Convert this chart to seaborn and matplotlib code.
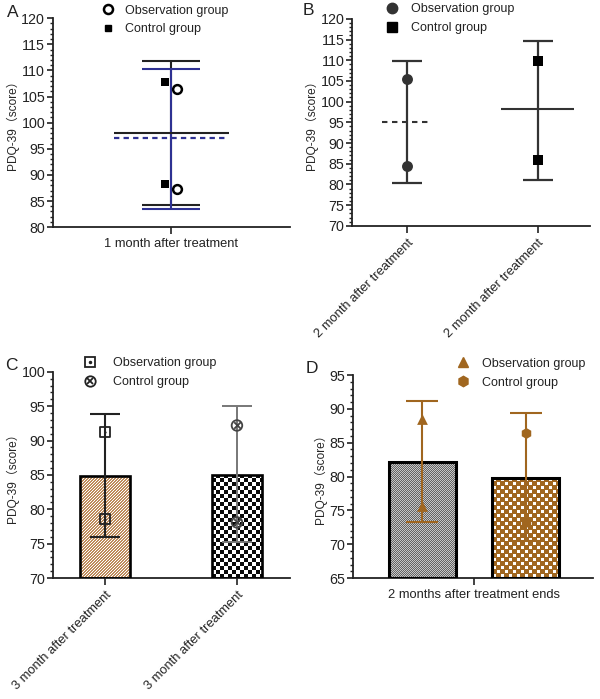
import numpy as np
import pandas as pd
import matplotlib
matplotlib.use("Agg")
import matplotlib.pyplot as plt
import seaborn as sns
from matplotlib.lines import Line2D
from matplotlib.patches import Rectangle
from matplotlib.ticker import MultipleLocator

groups = ["Observation group", "Control group"]

# panel A
a_label = "1 month after treatment"
a_obs_points = [106.4, 87.4]
a_ctrl_points = [107.8, 88.3]
a_obs_mean, a_obs_low, a_obs_high = 97.0, 83.4, 110.3
a_ctrl_mean, a_ctrl_low, a_ctrl_high = 98.0, 84.2, 111.8

# panel B
b_labels = ["2 month after treatment", "2 month after treatment"]
b_obs_points = [105.5, 84.5]
b_ctrl_points = [109.9, 86.0]
b_means = [95.1, 98.1]
b_lows = [80.3, 81.1]
b_highs = [109.9, 114.7]

# panel C
c_labels = ["3 month after treatment", "3 month after treatment"]
c_means = [84.9, 85.0]
c_lows = [76.0, 75.2]
c_highs = [93.9, 95.1]
c_obs_points = [91.3, 78.6]
c_ctrl_points = [92.2, 78.1]

# panel D
d_label = "2 months after treatment ends"
d_means = [82.2, 79.8]
d_lows = [73.3, 70.5]
d_highs = [91.2, 89.4]
d_obs_points = [88.5, 75.7]
d_ctrl_points = [86.5, 73.3]

BLUE = "#2e3192"
DARK = "#222222"
GREY = "#333333"
BROWN = "#a0661f"
YLABEL = "PDQ-39（score）"

sns.set_theme(style="ticks")
plt.rcParams["font.family"] = ["Liberation Sans", "Noto Sans CJK SC", "DejaVu Sans"]
plt.rcParams["axes.edgecolor"] = DARK
plt.rcParams["xtick.color"] = DARK
plt.rcParams["ytick.color"] = DARK
plt.rcParams["text.color"] = DARK


def style_axis(ax, ymin, ymax):
    ax.set_ylim(ymin, ymax)
    ax.yaxis.set_major_locator(MultipleLocator(5))
    ax.yaxis.set_minor_locator(MultipleLocator(1))
    ax.tick_params(axis="y", which="major", length=4.5, width=1.2, labelsize=10.3, pad=1)
    ax.tick_params(axis="y", which="minor", length=2.5, width=1.0)
    ax.tick_params(axis="x", length=5, width=1.2, labelsize=9.3, pad=3)
    for s in ["left", "bottom"]:
        ax.spines[s].set_linewidth(1.3)
    sns.despine(ax=ax)
    ax.set_ylabel(YLABEL, fontsize=8.6, labelpad=2)
    ax.set_xlabel("")


def draw_err(ax, x, mean, low, high, color, lw, capsize):
    ax.errorbar(x, mean, yerr=[[mean - low], [high - mean]], fmt="none",
                ecolor=color, elinewidth=lw, capsize=capsize, capthick=lw, zorder=4)


def make_tile(kind):
    n = 24
    i, j = np.mgrid[0:n, 0:n]
    light = [1, 1, 1]
    if kind == "tan":
        base = np.array([190, 140, 92]) / 255
        mask = (i + j) % 3 == 0
    elif kind == "checker":
        base = np.array([10, 10, 10]) / 255
        mask = ((i // 4) + (j // 4)) % 2 == 0
    elif kind == "grey":
        base = np.array([100, 100, 100]) / 255
        mask = (i + j) % 2 == 0
        light = [0.78, 0.78, 0.78]
    else:
        base = np.array([160, 102, 31]) / 255
        a = (i % 8 - 2) ** 2 + (j % 8 - 2) ** 2 <= 2.5
        b = (i % 8 - 6) ** 2 + (j % 8 - 6) ** 2 <= 2.5
        mask = a | b
    tile = np.ones((n, n, 3)) * base
    tile[mask] = light
    return tile


def add_texture(ax, patch, kind, edge_lw):
    ylo = max(patch.get_y(), ax.get_ylim()[0])
    x0, x1 = patch.get_x(), patch.get_x() + patch.get_width()
    y1 = patch.get_y() + patch.get_height()
    p = ax.transData.transform([[x0, ylo], [x1, y1]])
    w, h = int(abs(p[1, 0] - p[0, 0])) + 1, int(abs(p[1, 1] - p[0, 1])) + 1
    tile = make_tile(kind)
    img = np.tile(tile, (h // tile.shape[0] + 1, w // tile.shape[1] + 1, 1))[:h, :w]
    im = ax.imshow(img, extent=(x0, x1, ylo, y1), origin="upper",
                   interpolation="nearest", aspect="auto", zorder=2)
    im.set_clip_path(patch)
    ax.add_patch(Rectangle((x0, ylo), x1 - x0, y1 - ylo, fill=False,
                           edgecolor="black", lw=edge_lw, zorder=3))
    patch.set_linewidth(0)


fig = plt.figure(figsize=(6, 6.99), dpi=100)

# ---------------- A ----------------
ax = fig.add_axes([0.088, 0.675, 0.395, 0.299])
draw_err(ax, 0, a_ctrl_mean, a_ctrl_low, a_ctrl_high, DARK, 1.5, 21)
draw_err(ax, 0, a_obs_mean, a_obs_low, a_obs_high, BLUE, 1.5, 21)
ax.hlines(a_ctrl_mean, -0.24, 0.245, color=DARK, lw=1.5, zorder=4)
ax.hlines(a_obs_mean, -0.24, 0.23, color=BLUE, lw=1.6, linestyles=(0, (2.4, 1.9)), zorder=4)
sns.scatterplot(x=[-0.025] * len(a_ctrl_points), y=a_ctrl_points, marker="s", s=26,
                color="black", linewidth=0, ax=ax, zorder=5)
sns.scatterplot(x=[0.022] * len(a_obs_points), y=a_obs_points, marker="o", s=40,
                facecolor="white", edgecolor="black", linewidth=1.8, ax=ax, zorder=5)
ax.set_xlim(-0.5, 0.5)
ax.set_xticks([0])
ax.set_xticklabels([a_label])
style_axis(ax, 80, 120)
ax.legend([Line2D([], [], ls="none", marker="o", ms=6.5, mfc="white", mec="black", mew=1.8),
           Line2D([], [], ls="none", marker="s", ms=5, color="black")],
          groups, loc="upper left", bbox_to_anchor=(0.207, 1.065), frameon=False,
          fontsize=9, handlelength=1, handletextpad=0.85, labelspacing=0.55,
          borderpad=0, borderaxespad=0)

# ---------------- B ----------------
ax = fig.add_axes([0.587, 0.677, 0.396, 0.296])
draw_err(ax, 0, b_means[0], b_lows[0], b_highs[0], GREY, 1.6, 10.8)
draw_err(ax, 1, b_means[1], b_lows[1], b_highs[1], GREY, 1.6, 10.8)
ax.hlines(b_means[0], -0.19, 0.19, color=GREY, lw=1.5, linestyles=(0, (2.6, 2.2)), zorder=4)
ax.hlines(b_means[1], 1 - 0.28, 1 + 0.28, color=GREY, lw=1.5, zorder=4)
sns.scatterplot(x=[0] * len(b_obs_points), y=b_obs_points, marker="o", s=62,
                color=GREY, linewidth=0, ax=ax, zorder=5)
sns.scatterplot(x=[1] * len(b_ctrl_points), y=b_ctrl_points, marker="s", s=52,
                color="black", linewidth=0, ax=ax, zorder=5)
ax.set_xlim(-0.42, 1.40)
ax.set_xticks([0, 1])
ax.set_xticklabels(b_labels, rotation=45, ha="right", va="top", rotation_mode="anchor")
style_axis(ax, 70, 120)
ax.legend([Line2D([], [], ls="none", marker="o", ms=7.5, color=GREY),
           Line2D([], [], ls="none", marker="s", ms=7, color="black")],
          groups, loc="upper left", bbox_to_anchor=(0.143, 1.075), frameon=False,
          fontsize=9, handlelength=1, handletextpad=1.0, labelspacing=0.55,
          borderpad=0, borderaxespad=0)

# ---------------- C ----------------
ax = fig.add_axes([0.088, 0.173, 0.395, 0.295])
c_df = pd.DataFrame({"group": groups, "score": c_means})
sns.barplot(data=c_df, x="group", y="score", hue="group", palette=["#c09064", "#555555"],
            width=0.38, legend=False, ax=ax, zorder=2)
ax.set_xlim(-0.394, 1.40)
style_axis(ax, 70, 100)
ax.set_autoscale_on(False)
for patch, kind in zip(ax.patches, ["tan", "checker"]):
    add_texture(ax, patch, kind, 1.9)
draw_err(ax, 0, c_means[0], c_lows[0], c_highs[0], DARK, 1.5, 10.8)
draw_err(ax, 1, c_means[1], c_lows[1], c_highs[1], "#777777", 1.4, 10.8)
sns.scatterplot(x=[0] * len(c_obs_points), y=c_obs_points, marker="s", s=52,
                facecolor="none", edgecolor=DARK, linewidth=1.3, ax=ax, zorder=5)
sns.scatterplot(x=[0] * len(c_obs_points), y=c_obs_points, marker=".", s=10,
                color=DARK, linewidth=0, ax=ax, zorder=5)
sns.scatterplot(x=[1] * len(c_ctrl_points), y=c_ctrl_points, marker="o", s=58,
                facecolor="none", edgecolor="#444444", linewidth=1.3, ax=ax, zorder=5)
sns.scatterplot(x=[1] * len(c_ctrl_points), y=c_ctrl_points, marker="x", s=22,
                color="#444444", linewidth=1.3, ax=ax, zorder=5)
ax.set_xticks([0, 1])
ax.set_xticklabels(c_labels, rotation=45, ha="right", va="top", rotation_mode="anchor")
style_axis(ax, 70, 100)
ax.legend([(Line2D([], [], ls="none", marker="s", ms=7.5, mfc="none", mec=DARK, mew=1.3),
            Line2D([], [], ls="none", marker=".", ms=3, color=DARK)),
           (Line2D([], [], ls="none", marker="o", ms=7.5, mfc="none", mec=DARK, mew=1.3),
            Line2D([], [], ls="none", marker="x", ms=4.5, color=DARK, mew=1.3))],
          groups, loc="upper left", bbox_to_anchor=(0.131, 1.07), frameon=False,
          fontsize=9, handlelength=1, handletextpad=1.35, labelspacing=0.55,
          borderpad=0, borderaxespad=0)

# ---------------- D ----------------
ax = fig.add_axes([0.588, 0.173, 0.40, 0.2905])
d_df = pd.DataFrame({"time": [d_label] * 2, "group": groups, "score": d_means})
sns.barplot(data=d_df, x="time", y="score", hue="group", palette=["#7a7a7a", BROWN],
            width=0.8, gap=0.35, legend=False, ax=ax, zorder=2)
ax.set_xlim(-0.47, 0.46)
style_axis(ax, 65, 95)
ax.set_autoscale_on(False)
centers = []
for patch, kind in zip(ax.patches, ["grey", "dots"]):
    centers.append(patch.get_x() + patch.get_width() / 2)
    add_texture(ax, patch, kind, 2.2)
for k in range(2):
    draw_err(ax, centers[k], d_means[k], d_lows[k], d_highs[k], BROWN, 1.5, 11.8)
sns.scatterplot(x=[centers[0]] * len(d_obs_points), y=d_obs_points, marker="^", s=60,
                color=BROWN, linewidth=0, ax=ax, zorder=5)
sns.scatterplot(x=[centers[1]] * len(d_ctrl_points), y=d_ctrl_points, marker="h", s=62,
                color=BROWN, linewidth=0, ax=ax, zorder=5)
ax.set_xticks([0])
ax.set_xticklabels([d_label])
style_axis(ax, 65, 95)
ax.legend([Line2D([], [], ls="none", marker="^", ms=7.5, color=BROWN),
           Line2D([], [], ls="none", marker="h", ms=7.5, color=BROWN)],
          groups, loc="upper left", bbox_to_anchor=(0.433, 1.085), frameon=False,
          fontsize=9, handlelength=1, handletextpad=1.0, labelspacing=0.55,
          borderpad=0, borderaxespad=0)

# panel letters
for x, y, letter in [(0.012, 0.993, "A"), (0.505, 0.996, "B"),
                     (0.008, 0.488, "C"), (0.51, 0.484, "D")]:
    fig.text(x, y, letter, fontsize=12.5, va="top", ha="left")

fig.savefig("out.png", dpi=100)
